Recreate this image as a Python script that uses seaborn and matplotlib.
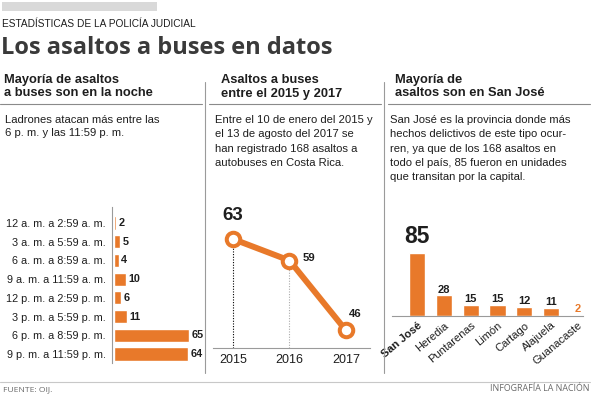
import matplotlib
matplotlib.use("Agg")
import matplotlib.pyplot as plt
from matplotlib.lines import Line2D
from matplotlib.patches import Rectangle
import seaborn as sns
import pandas as pd

# ---------------- data ----------------
horas = ["12 a. m. a 2:59 a. m.", "3 a. m. a 5:59 a. m.", "6 a. m. a 8:59 a. m.",
         "9 a. m. a 11:59 a. m.", "12 p. m. a 2:59 p. m.", "3 p. m. a 5:59 p. m.",
         "6 p. m. a 8:59 p. m.", "9 p. m. a 11:59 p. m."]
asaltos_hora = [2, 5, 4, 10, 6, 11, 65, 64]

anios = [2015, 2016, 2017]
asaltos_anio = [63, 59, 46]

provincias = ["San José", "Heredia", "Puntarenas", "Limón", "Cartago", "Alajuela", "Guanacaste"]
asaltos_prov = [85, 28, 15, 15, 12, 11, 2]

# ---------------- style ----------------
sns.set_style("white")
plt.rcParams["font.family"] = ["Liberation Sans", "DejaVu Sans"]
ORANGE = "#E8792A"
TXT = "#1e1e1e"
GRID = "#8a8a8a"

W, H = 595, 397
fig = plt.figure(figsize=(W / 100, H / 100), dpi=100)
fig.patch.set_facecolor("white")


def fx(x):
    return x / W


def fy(y):
    return 1 - y / H


def px_axes(x0, y0, x1, y1):
    return fig.add_axes([fx(x0), fy(y1), (x1 - x0) / W, (y1 - y0) / H])


def text(x, y, s, **kw):
    kw.setdefault("color", TXT)
    return fig.text(fx(x), fy(y), s, va="baseline", **kw)


def line(xs, ys, **kw):
    fig.add_artist(Line2D([fx(v) for v in xs], [fy(v) for v in ys], **kw))


# ---------------- header ----------------
fig.add_artist(Rectangle((fx(2), fy(11)), 155 / W, 9 / H, transform=fig.transFigure,
                         color="#d9d9d9", lw=0))
text(2, 27, "ESTADÍSTICAS DE LA POLICÍA JUDICIAL", fontsize=7.3)
text(1, 54, "Los asaltos a buses en datos", fontsize=17, fontweight="bold",
     family="Open Sans", color="#3a3a3a")

# separators
line([205, 205], [82, 373], color="#9a9a9a", lw=0.8)
line([384, 384], [82, 373], color="#9a9a9a", lw=0.8)
line([0, 202], [103.5, 103.5], color=GRID, lw=0.8)
line([209, 381], [103.5, 103.5], color=GRID, lw=0.8)
line([388, 590], [103.5, 103.5], color=GRID, lw=0.8)
line([0, 590], [382, 382], color="#c8c8c8", lw=0.8)

# section headers
HS = 9.3
text(4, 83, "Mayoría de asaltos", fontsize=HS, fontweight="bold")
text(4, 96.5, "a buses son en la noche", fontsize=HS, fontweight="bold")
text(221, 83, "Asaltos a buses", fontsize=HS, fontweight="bold")
text(221, 96.5, "entre el 2015 y 2017", fontsize=HS, fontweight="bold")
text(395, 83, "Mayoría de", fontsize=HS, fontweight="bold")
text(395, 96.5, "asaltos son en San José", fontsize=HS, fontweight="bold")

# body texts
BS = 8.1
text(5, 123, "Ladrones atacan más entre las", fontsize=BS)
text(5, 136.5, "6 p. m. y las 11:59 p. m.", fontsize=BS)
for i, s in enumerate(["Entre el 10 de enero del 2015 y", "el 13 de agosto del 2017 se",
                       "han registrado 168 asaltos a", "autobuses en Costa Rica."]):
    text(215, 123 + i * 14.3, s, fontsize=BS)
for i, s in enumerate(["San José es la provincia donde más", "hechos delictivos de este tipo ocur-",
                       "ren, ya que de los 168 asaltos en", "todo el país, 85 fueron en unidades",
                       "que transitan por la capital."]):
    text(390, 123 + i * 14.3, s, fontsize=BS)

# footer
text(3, 391, "FUENTE: OIJ.", fontsize=6.1, family="Open Sans", color="#6a6a6a")
text(589, 391, "INFOGRAFÍA LA NACIÓN", fontsize=6.4, family="Open Sans", color="#6a6a6a",
     ha="right")

# ---------------- panel 1: horizontal bars ----------------
ax1 = px_axes(112, 207, 200, 363)
df1 = pd.DataFrame({"franja": horas, "asaltos": asaltos_hora})
sns.barplot(data=df1, x="asaltos", y="franja", orient="h", color=ORANGE, saturation=1,
            width=0.7, ax=ax1)
ax1.set_xlim(-1.7, 74.5)
ax1.set_ylim(7.48, -0.855)
ax1.set_xticks([])
ax1.set_xlabel("")
ax1.set_ylabel("")
ax1.set_facecolor("none")
for s in ["top", "right", "bottom"]:
    ax1.spines[s].set_visible(False)
ax1.spines["left"].set_color("#9a9a9a")
ax1.spines["left"].set_linewidth(0.8)
ax1.tick_params(axis="y", length=0, pad=4.3, labelsize=7.8, labelcolor=TXT)
ax1.bar_label(ax1.containers[0], padding=1.8, fontsize=7.8, fontweight="bold", color=TXT)

# ---------------- panel 2: line ----------------
ax2 = px_axes(213, 200, 370, 348)
sns.lineplot(x=anios, y=asaltos_anio, ax=ax2, color=ORANGE, lw=4.3, marker="o",
             markersize=9.7, markerfacecolor="white", markeredgecolor=ORANGE,
             markeredgewidth=2.9, zorder=3)
Y0 = 42.74
ax2.set_xlim(2014.646, 2017.425)
ax2.set_ylim(Y0, 70.25)
ax2.plot([anios[0], anios[0]], [Y0, asaltos_anio[0]], ls=(0, (1, 1.4)), color="black",
         lw=0.8, zorder=1)
ax2.plot([anios[1], anios[1]], [Y0, asaltos_anio[1]], ls=(0, (1, 1.4)), color="#aaaaaa",
         lw=0.8, zorder=1)
ax2.set_xticks(anios)
ax2.set_xticklabels([str(a) for a in anios])
ax2.set_yticks([])
ax2.set_facecolor("none")
for s in ["top", "right", "left"]:
    ax2.spines[s].set_visible(False)
ax2.spines["bottom"].set_color("#9a9a9a")
ax2.spines["bottom"].set_linewidth(0.8)
ax2.tick_params(axis="x", length=0, pad=4.3, labelsize=9, labelcolor=TXT)
ax2.annotate(str(asaltos_anio[0]), (anios[0], asaltos_anio[0]), xytext=(0, 13.7),
             textcoords="offset points", ha="center", va="baseline", fontsize=13.5,
             fontweight="bold", color=TXT)
ax2.annotate(str(asaltos_anio[1]), (anios[1], asaltos_anio[1]), xytext=(9.4, -0.7),
             textcoords="offset points", ha="left", va="baseline", fontsize=8.2,
             fontweight="bold", color=TXT)
ax2.annotate(str(asaltos_anio[2]), (anios[2], asaltos_anio[2]), xytext=(2.2, 9.4),
             textcoords="offset points", ha="left", va="baseline", fontsize=8.2,
             fontweight="bold", color=TXT)

# ---------------- panel 3: vertical bars ----------------
ax3 = px_axes(392, 230, 583, 316)
df3 = pd.DataFrame({"provincia": provincias, "asaltos": asaltos_prov})
sns.barplot(data=df3, x="provincia", y="asaltos", color=ORANGE, saturation=1, width=0.6,
            ax=ax3)
ax3.set_xlim(-0.933, 6.19)
ax3.set_ylim(0, 116.2)
ax3.set_yticks([])
ax3.set_xlabel("")
ax3.set_ylabel("")
ax3.set_facecolor("none")
for s in ["top", "right", "left"]:
    ax3.spines[s].set_visible(False)
ax3.spines["bottom"].set_color("#9a9a9a")
ax3.spines["bottom"].set_linewidth(0.8)
ax3.set_xticks(range(len(provincias)))
ax3.set_xticklabels(provincias, rotation=40, ha="right", rotation_mode="anchor")
ax3.tick_params(axis="x", length=0, pad=3, labelsize=8, labelcolor=TXT)
ax3.get_xticklabels()[0].set_fontweight("bold")
labs = ax3.bar_label(ax3.containers[0], padding=0.5, fontsize=8, fontweight="bold",
                     color=TXT)
labs[0].set_fontsize(16.5)
labs[0].xyann = (0, 4)
labs[-1].set_color(ORANGE)

fig.savefig("out.png", dpi=100, facecolor="white")
